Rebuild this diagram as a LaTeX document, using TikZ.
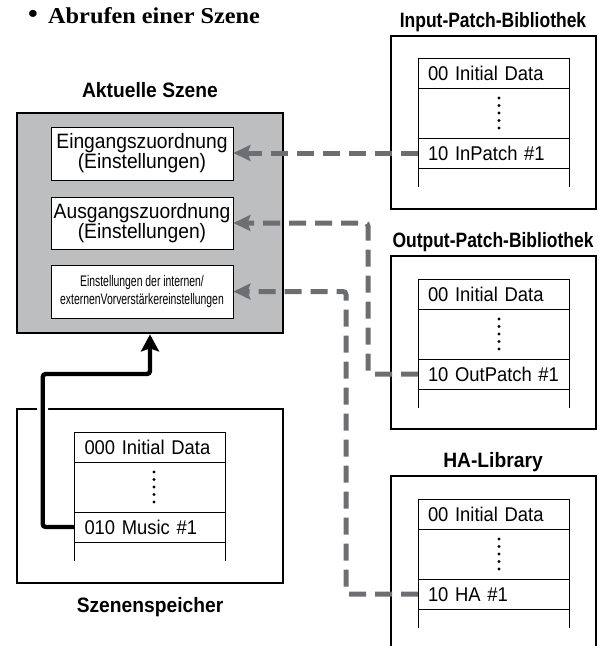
\documentclass[tikz,border=0pt]{standalone}
\usepackage{fontspec}
\setmainfont[FakeStretch=0.925]{Liberation Sans}
\newfontfamily\narrowfont[FakeStretch=0.84]{Liberation Sans}
\newfontfamily\smallcondfont[FakeStretch=0.68]{Liberation Sans}
\newfontfamily\titlefont[FakeStretch=1.07]{Liberation Serif}
\usetikzlibrary{arrows.meta,calc}
\definecolor{scenegray}{HTML}{BCBEC0}
\definecolor{linkgray}{HTML}{6D6E71}
\tikzset{
  heading/.style={font=\bfseries\fontsize{20.8}{24}\selectfont, inner sep=0pt, text height=15pt, text depth=0pt},
  setbox/.style={draw=black, line width=1pt, fill=white, minimum width=182pt, align=center, inner sep=0pt, font=\fontsize{20.8}{20}\selectfont},
  libframe/.style={draw=black, line width=2.2pt, minimum width=205pt, minimum height=173pt, inner sep=0pt},
  listrow/.style={draw=black, line width=0.9pt, minimum height=30pt, text width=131pt, inner xsep=10pt, inner ysep=0pt, outer sep=0pt, align=left, text height=14pt, text depth=0pt, font=\fontsize{19.9}{22}\selectfont},
  link/.style={draw=linkgray, line width=5pt, dash pattern=on 17pt off 9pt, rounded corners=3pt, -{Stealth[length=17pt,width=16pt,inset=3pt]}},
  recall/.style={draw=black, line width=4.4pt, rounded corners=3pt, -{Stealth[length=17pt,width=18pt,inset=3pt]}},
}
\newcommand\plist[6]{%
  \node[listrow, anchor=north] (#1first) at (#2,#3) {#4};
  \node[listrow, anchor=north] (#1last) at (#2,#3+80) {#5};
  \draw[line width=0.9pt] (#1first.south west) -- (#1last.north west)
        (#1first.south east) -- (#1last.north east)
        (#1last.south west) -- ++(0,19)
        (#1last.south east) -- ++(0,19);
  \foreach \k in {0,...,4} \fill ($(#1first.south)+(#6,10+7.5*\k)$) circle (1.6pt);
}
\begin{document}
\begin{tikzpicture}[x=1pt,y=-1pt]
\useasboundingbox (0,0) rectangle (599,646);
\clip (0,0) rectangle (599,646);

% title
\node[font=\titlefont\bfseries\fontsize{26}{28}\selectfont, inner sep=0pt] (bullet) at (33,16) {\textbullet};
\node[font=\titlefont\bfseries\fontsize{22.7}{26}\selectfont, anchor=west, inner sep=0pt, text height=15pt, text depth=0pt] (title) at (48,15.5) {Abrufen einer Szene};

% current scene
\node[heading] (scenelabel) at (150,90) {Aktuelle Szene};
\node[draw=black, line width=2.8pt, fill=scenegray, minimum width=266pt, minimum height=220pt, inner sep=0pt] (scene) at (150,223) {};
\node[setbox, minimum height=53pt] (inmap) at (142,153.5) {Eingangszuordnung\\(Einstellungen)};
\node[setbox, minimum height=52pt] (outmap) at (142,223) {Ausgangszuordnung\\(Einstellungen)};
\node[setbox, minimum height=53pt, font=\smallcondfont\fontsize{15.3}{18}\selectfont] (hamap) at (142,291.5) {Einstellungen der internen/\\externenVorverstärkereinstellungen};

% input patch library
\node[heading, font=\narrowfont\bfseries\fontsize{20.8}{24}\selectfont] (inlabel) at (493,20) {Input-Patch-Bibliothek};
\node[libframe] (inlib) at (493.5,122.5) {};
\plist{inp}{493.5}{58}{00 Initial Data}{10 InPatch \#1}{5.5}

% output patch library
\node[heading, font=\narrowfont\bfseries\fontsize{20.8}{24}\selectfont] (outlabel) at (493,240) {Output-Patch-Bibliothek};
\node[libframe] (outlib) at (493.5,342.5) {};
\plist{outp}{493.5}{279}{00 Initial Data}{10 OutPatch \#1}{5.5}

% HA library
\node[heading] (halabel) at (493,460) {HA-Library};
\node[libframe] (halib) at (493.5,562.5) {};
\plist{ha}{493.5}{499}{00 Initial Data}{10 HA \#1}{5.5}

% scene memory
\node[draw=black, line width=2.2pt, minimum width=266pt, minimum height=174pt, inner sep=0pt] (scnmem) at (150,496) {};
\node[heading] (scnlabel) at (150,605) {Szenenspeicher};
\plist{scn}{150}{432}{000 Initial Data}{010 Music \#1}{4}

% connectors
\coordinate (bendout) at (368,0);
\coordinate (bendha) at (346,0);
\coordinate (bendrec) at (42.7,374);
\draw[link] (inplast.west) -- (inplast.west -| inmap.east);
\draw[link] (outplast.west) -- (outplast.west -| bendout) |- (outmap.east);
\draw[link] (halast.west) -- (halast.west -| bendha) |- (hamap.east);
\draw[recall, preaction={draw=white, line width=11pt, -, shorten <=3pt, shorten >=20pt}]
  (scnlast.west) -| (bendrec) -| (scene.south);
\end{tikzpicture}
\end{document}
